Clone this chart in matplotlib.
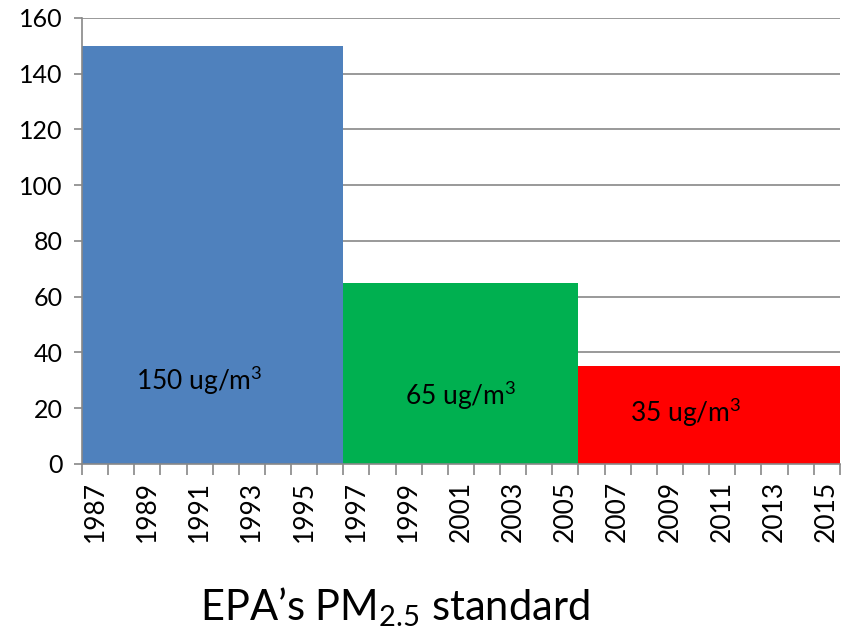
import matplotlib
matplotlib.use("Agg")
import matplotlib.pyplot as plt
import numpy as np

plt.rcParams['font.family'] = ['Lato', 'DejaVu Sans']
plt.rcParams['mathtext.fontset'] = 'custom'
plt.rcParams['mathtext.rm'] = 'Lato'
plt.rcParams['mathtext.it'] = 'Lato'

years = list(range(1987, 2016))
# standard in force each year (ug/m3)
values = [150] * 10 + [65] * 9 + [35] * 10
colors = ['#4F81BD'] * 10 + ['#00B050'] * 9 + ['#FF0000'] * 10
labels = ["150 ug/m$^3$", "65 ug/m$^3$", "35 ug/m$^3$"]
label_pos = [(4.0, 30), (14.0, 24.5), (22.6, 18.5)]

fig = plt.figure(figsize=(8.5, 6.35), dpi=100)
ax = fig.add_axes([0.0965, 0.2693, 0.8915, 0.7024])

x = np.arange(len(years))
ax.bar(x, values, width=1.0, color=colors, zorder=2)

for t, (px, py) in zip(labels, label_pos):
    ax.text(px, py, t, ha='center', va='center', fontsize=19, color='black', zorder=3)

ax.set_xlim(-0.5, len(years) - 0.5)
ax.set_ylim(0, 160)
ax.set_yticks(range(0, 161, 20))
ax.yaxis.grid(True, color='#888888', linewidth=1.2, zorder=0)

ax.set_xticks(x[::2])
ax.set_xticklabels([str(y) for y in years[::2]], rotation=90, fontsize=19)
ax.set_xticks(np.arange(-0.5, len(years), 1.0), minor=True)
ax.tick_params(axis='x', which='major', length=0, pad=12)
ax.tick_params(axis='x', which='minor', length=8, color='#888888', width=1.2)
ax.tick_params(axis='y', length=6, color='#888888', width=1.2, labelsize=18, pad=8)

for s in ['top', 'right']:
    ax.spines[s].set_visible(False)
for s in ['left', 'bottom']:
    ax.spines[s].set_color('#888888')
    ax.spines[s].set_linewidth(1.2)

fig.text(0.465, 0.044, "EPA\u2019s PM$_{2.5}$ standard", ha='center', va='center', fontsize=30)

fig.savefig("out.png", dpi=100)
